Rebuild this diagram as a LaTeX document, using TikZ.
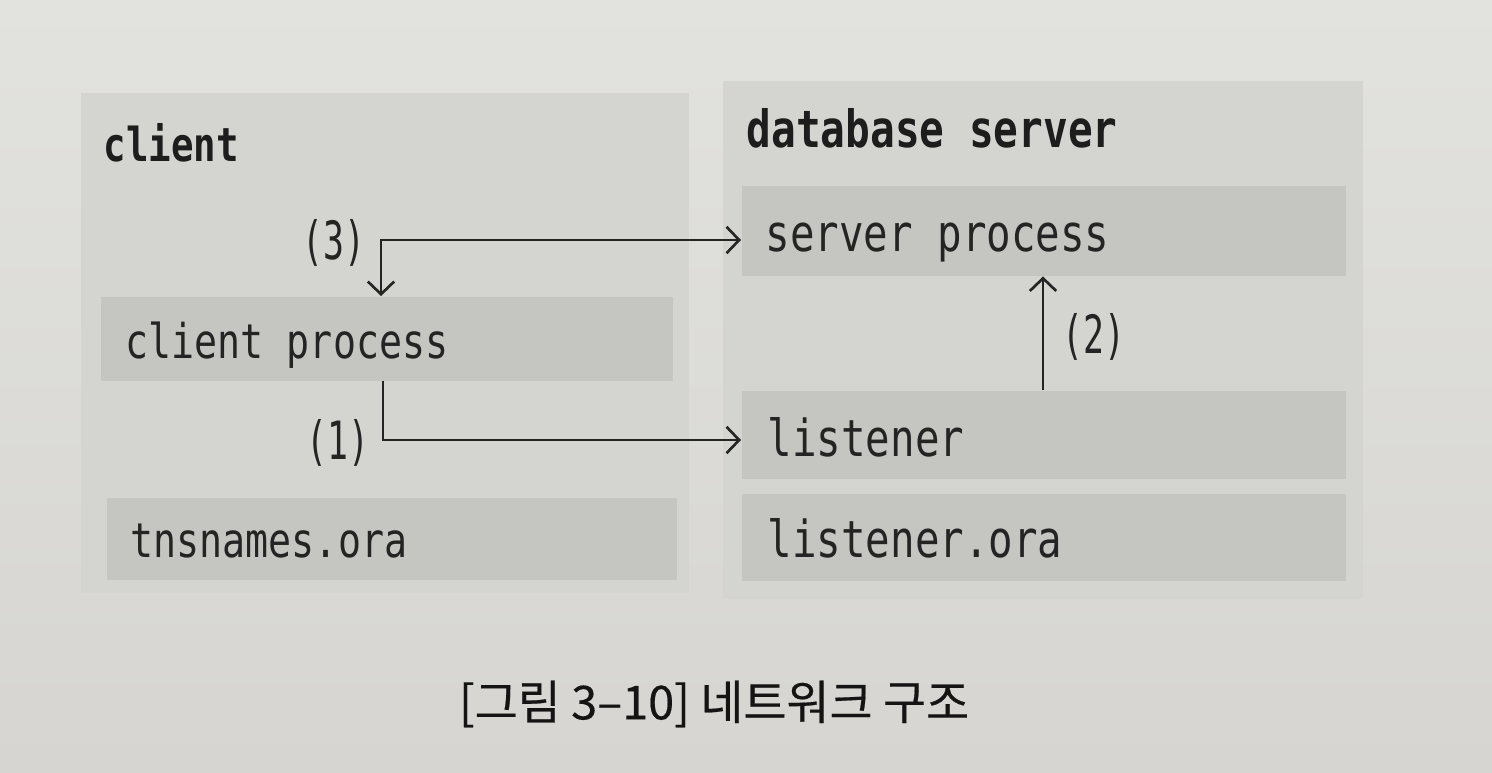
\documentclass[tikz,border=0pt]{standalone}
\usepackage{fontspec}
\usetikzlibrary{arrows.meta}
\newfontfamily\monof[FakeStretch=0.8]{DejaVu Sans Mono}
\newfontfamily\monolab[FakeStretch=0.66]{DejaVu Sans Mono}
\newfontfamily\krf[FakeBold=0.4]{Noto Sans CJK KR}
\definecolor{pagetop}{RGB}{226,226,223}
\definecolor{pagebot}{RGB}{214,213,209}
\definecolor{panelc}{RGB}{212,212,209}
\definecolor{barc}{RGB}{197,197,194}
\definecolor{inkc}{RGB}{36,36,36}
\begin{document}
\begin{tikzpicture}[x=0.01cm,y=-0.01cm,
  panel/.style={fill=panelc, draw=none, anchor=north west, inner sep=0pt},
  bar/.style={fill=barc, draw=none, anchor=north west, inner sep=0pt},
  txtR/.style={anchor=base west, inner sep=0pt, text=inkc, font=\monof\fontsize{14.5}{17}\selectfont},
  txtL/.style={anchor=base west, inner sep=0pt, text=inkc, font=\monof\fontsize{13.6}{16}\selectfont},
  head/.style={anchor=base west, inner sep=0pt, text=inkc!80!black, font=\monof\bfseries\fontsize{#1}{17}\selectfont},
  num/.style={inner sep=0pt, text=inkc, font=\monolab\fontsize{15}{18}\selectfont},
  arr/.style={draw=inkc, line width=0.75pt},
  >={Straight Barb[length=3.6pt,width=7.5pt]}
]
\useasboundingbox (0,0) rectangle (1492,772);
\shade[top color=pagetop, bottom color=pagebot] (0,0) rectangle (1492,772);

% panels
\node[panel, minimum width=6.08cm, minimum height=5.00cm] (clientpanel) at (80,92) {};
\node[panel, minimum width=6.40cm, minimum height=5.18cm] (serverpanel) at (722,80) {};

% bars
\node[bar, minimum width=5.72cm, minimum height=0.84cm] (cpb) at (100,296) {};
\node[bar, minimum width=5.70cm, minimum height=0.82cm] (tnb) at (106,497) {};
\node[bar, minimum width=6.04cm, minimum height=0.90cm] (spb) at (741,185) {};
\node[bar, minimum width=6.04cm, minimum height=0.88cm] (lsb) at (741,390) {};
\node[bar, minimum width=6.04cm, minimum height=0.87cm] (lob) at (741,493) {};

% texts
\node[head=13.3] (clienttxt) at (103,161) {client};
\node[head=14.6] (dbtxt) at (746,147) {database server};
\node[txtL] (cptxt) at (125,358) {client process};
\node[txtL] (tntxt) at (130,557) {tnsnames.ora};
\node[txtR] (sptxt) at (765,251) {server process};
\node[txtR] (lstxt) at (767,456) {listener};
\node[txtR] (lotxt) at (767,557) {listener.ora};

% connectors
\coordinate (k3) at (381,240);
\coordinate (k1) at (383,440);
\coordinate (k2) at (1043,300);
\draw[arr, <->] (k3 |- cpb.north) -- (k3) -- (k3 -| spb.west);
\draw[arr, ->] (k1 |- cpb.south) -- (k1) -- (k1 -| lsb.west);
\draw[arr, ->] (k2 |- lsb.north) -- (k2 |- spb.south);

\node[num] (n3) at (334,243) {(3)};
\node[num] (n1) at (338,443) {(1)};
\node[num] (n2) at (1094,337) {(2)};

% caption
\node[inner sep=0pt, text=black!92, font=\krf\fontsize{13.3}{16}\selectfont] (cap) at (714,704) {[그림 3–10] 네트워크 구조};
\end{tikzpicture}
\end{document}
